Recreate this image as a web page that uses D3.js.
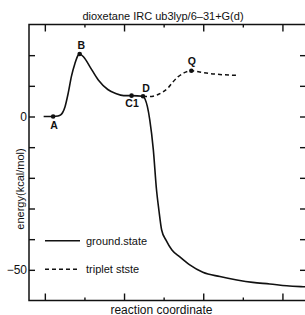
<!DOCTYPE html>
<html><head><meta charset="utf-8">
<script src="https://cdn.jsdelivr.net/npm/d3@7"></script>
<style>
html,body{margin:0;padding:0;background:#fff;}
svg{display:block;}
text{font-family:"Liberation Sans",Arial,sans-serif;fill:#111;}
</style></head>
<body>
<svg id="chart" width="305" height="315"></svg>
<script>
const title = "dioxetane IRC ub3lyp/6–31+G(d)";
const xLabel = "reaction coordinate";
const yLabel = "energy(kcal/mol)";
const yTickLabels = [{v:0,t:"0"},{v:-50,t:"−50"}];
const yTicks = [-50,-40,-30,-20,-10,0,10,20];
const xTicks = [0,1,2,3,4,5,6];

const groundX = [-0.03,0.21,0.33,0.40,0.45,0.51,0.59,0.67,0.76,0.84,0.88,0.98,1.14,1.35,1.59,1.79,1.99,2.19,2.48,2.53,2.59,2.65,2.74,2.82,2.88,2.95,3.06,3.21,3.41,3.66,3.99,4.42,4.85,5.25,5.68,6.11,6.52,6.7];
const groundY = [0,0,0.15,0.5,1.3,3.2,7.6,13.0,17.3,20.0,20.4,19.4,16.2,11.9,8.8,7.5,6.8,6.8,6.6,5.7,3.2,-1.1,-10.9,-23.9,-30.5,-37.0,-40.3,-43.5,-45.8,-48.4,-50.8,-52.2,-53.3,-54.1,-54.6,-55.2,-55.5,-55.6];
const tripletX = [2.48,2.65,2.83,2.98,3.11,3.23,3.36,3.51,3.70,3.91,4.17,4.42,4.87];
const tripletY = [6.6,6.5,7.0,8.0,9.3,11.2,12.9,14.2,14.9,14.5,14.0,13.7,13.4];
const ptNames = ["A","B","C1","D","Q"];
const ptX = [0.21,0.88,2.19,2.48,3.70];
const ptY = [0,20.4,6.8,6.6,14.9];
const legendNames = ["ground.state","triplet stste"];

const svg = d3.select("#chart");
const L=29, R=305, T=24.5, B=300.5;
const x = d3.scaleLinear().domain([-0.40,6.57]).range([L,R]);
const y = d3.scaleLinear().domain([-60,30]).range([B,T]);

// frame
svg.append("rect").attr("x",L).attr("y",T).attr("width",R-L+2).attr("height",B-T)
  .attr("fill","none").attr("stroke","#111").attr("stroke-width",1.5);

// axes ticks (inward)
const axL = d3.axisRight(y).tickValues(yTicks).tickSize(6).tickFormat("");
const axR = d3.axisLeft(y).tickValues(yTicks).tickSize(5).tickFormat("");
svg.append("g").attr("transform",`translate(${L},0)`).call(axL);
svg.append("g").attr("transform",`translate(${R},0)`).call(axR);
const axB = d3.axisTop(x).tickValues(xTicks).tickSize(0).tickFormat("");
const gB = svg.append("g").attr("transform",`translate(0,${B})`).call(axB);
const gT = svg.append("g").attr("transform",`translate(0,${T})`).call(d3.axisBottom(x).tickValues(xTicks).tickSize(0).tickFormat(""));
gB.selectAll(".tick line").attr("y2",(d)=> d%2===0 ? -7 : -3);
gT.selectAll(".tick line").attr("y2",(d)=> d%2===0 ? 7 : 3);
svg.selectAll(".domain").remove();
svg.selectAll(".tick line").attr("stroke","#111").attr("stroke-width",1.4);

// tick labels
svg.append("g").selectAll("text").data(yTickLabels).join("text")
  .attr("x",27).attr("y",d=>y(d.v)).attr("dy","0.35em").attr("text-anchor","end")
  .attr("font-size",12).text(d=>d.t);

// titles
svg.append("text").attr("x",163).attr("y",19.5).attr("text-anchor","middle").attr("font-size",11).text(title);
svg.append("text").attr("x",161.5).attr("y",313.5).attr("text-anchor","middle").attr("font-size",12).text(xLabel);
svg.append("text").attr("transform","translate(24,189) rotate(-90)").attr("text-anchor","middle").attr("font-size",11).text(yLabel);

// curves
const line = d3.line().x(d=>x(d[0])).y(d=>y(d[1])).curve(d3.curveMonotoneX);
const gData = groundX.map((v,i)=>[v,groundY[i]]);
const tData = tripletX.map((v,i)=>[v,tripletY[i]]);
svg.append("defs").append("clipPath").attr("id","clip").append("rect").attr("x",L).attr("y",T).attr("width",R-L).attr("height",B-T);
svg.append("path").attr("d",line(gData)).attr("fill","none").attr("stroke","#111").attr("stroke-width",1.6).attr("clip-path","url(#clip)");
svg.append("path").attr("d",line(tData)).attr("fill","none").attr("stroke","#111").attr("stroke-width",1.5).attr("stroke-dasharray","4,3");

// points
svg.append("g").selectAll("circle").data(ptX).join("circle")
  .attr("cx",d=>x(d)).attr("cy",(d,i)=>y(ptY[i])).attr("r",2.3).attr("fill","#111");

// point labels
const lblDX = [1,1.5,0.5,3,0.5];
const lblDY = [12.5,-5,11.5,-4,-6];
svg.append("g").selectAll("text").data(ptNames).join("text")
  .attr("x",(d,i)=>x(ptX[i])+lblDX[i]).attr("y",(d,i)=>y(ptY[i])+lblDY[i])
  .attr("text-anchor","middle").attr("font-size",10.5).attr("font-weight","bold").text(d=>d);

// legend
const lg = svg.append("g");
lg.append("line").attr("x1",45).attr("x2",80).attr("y1",240.7).attr("y2",240.7).attr("stroke","#111").attr("stroke-width",1.5);
lg.append("line").attr("x1",45).attr("x2",78).attr("y1",269.3).attr("y2",269.3).attr("stroke","#111").attr("stroke-width",1.5).attr("stroke-dasharray","4,3");
lg.selectAll("text").data(legendNames).join("text")
  .attr("x",86).attr("y",(d,i)=>[244.5,273][i]).attr("font-size",11).text(d=>d);
</script>
</body></html>
